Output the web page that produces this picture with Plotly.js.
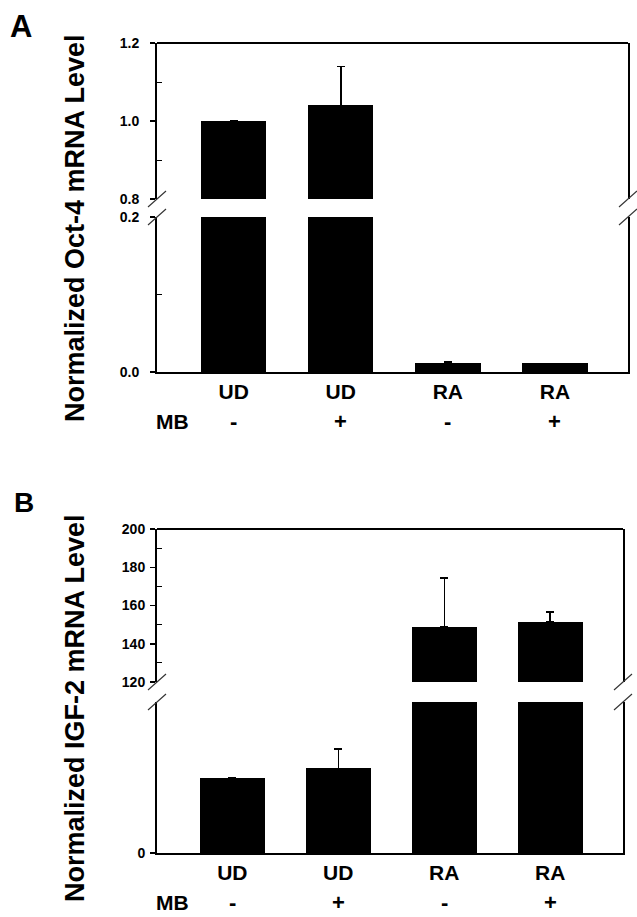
<!DOCTYPE html>
<html><head><meta charset="utf-8">
<script src="https://cdn.plot.ly/plotly-3.0.1.min.js"></script>
<style>html,body{margin:0;padding:0;background:#fff}#chart{width:637px;height:917px}</style>
</head><body><div id="chart"></div>
<script>
// ---- data ----
const categories = ["UD", "UD", "RA", "RA"];
const mbLabels = ["-", "+", "-", "+"];
const catPos = [0, 1, 2, 3];
const oct4Values = [1.0, 1.04, 0.011, 0.011];
const oct4Errors = [null, 0.10, 0.002, null];
const igf2Values = [1.0, 1.12, 149, 151.4];
const igf2Errors = [null, 0.26, 25.3, 5.3];
const oct4UpperTicks = [0.8, 1.0, 1.2];
const oct4UpperLabels = ["0.8", "1.0", "1.2"];
const oct4UpperMinor = [0.9, 1.1];
const oct4LowerTicks = [0.0, 0.2];
const oct4LowerLabels = ["0.0", "0.2"];
const oct4LowerMinor = [0.1];
const igf2UpperTicks = [120, 140, 160, 180, 200];
const igf2UpperLabels = ["120", "140", "160", "180", "200"];
const igf2UpperMinor = [130, 150, 170, 190];
const igf2LowerTicks = [0];
const igf2LowerLabels = ["0"];
const titleA = "Normalized Oct-4 mRNA Level";
const titleB = "Normalized IGF-2 mRNA Level";

// ---- helpers ----
const FONT = "Liberation Sans, Arial, sans-serif";
const W = 637, H = 917;
const px = v => v / W;
const py = v => 1 - v / H;
const zerosLike = a => a.map(v => (v === null ? null : 0));

function barTrace(y, err, xa, ya) {
  return {
    type: "bar", x: catPos, y: y, xaxis: xa, yaxis: ya, width: 0.61,
    marker: {color: "#000", line: {width: 0}},
    error_y: {type: "data", symmetric: false, array: err, arrayminus: zerosLike(err),
              color: "#000", thickness: 1.5, width: 4},
    hoverinfo: "none", showlegend: false
  };
}

function yAx(dom, rng, anchor, tv, tt, minor, standoff) {
  return {
    domain: dom, range: rng, anchor: anchor, showline: true, mirror: true,
    linewidth: 2, linecolor: "#000", ticks: "outside", ticklen: 5, tickwidth: 1.5,
    tickcolor: "#000", tickmode: "array", tickvals: tv, ticktext: tt,
    ticklabelstandoff: standoff,
    tickfont: {family: FONT, size: 14, color: "#000", weight: "bold"},
    minor: minor ? {tickmode: "array", tickvals: minor, ticks: "inside", ticklen: 5, tickwidth: 1, tickcolor: "#000", showgrid: false} : undefined,
    showgrid: false, zeroline: false, fixedrange: true
  };
}

function xAx(dom, rng, anchor) {
  return {
    domain: dom, range: rng, anchor: anchor, showline: true, linewidth: 2,
    linecolor: "#000", ticks: "", tickmode: "array", tickvals: catPos,
    ticktext: categories, ticklabelstandoff: 0,
    tickfont: {family: FONT, size: 21, color: "#000", weight: "bold"},
    showgrid: false, zeroline: false, fixedrange: true
  };
}

function slash(xr, yr, xa, ya) {
  return {type: "line", xref: xr, yref: yr, xsizemode: "pixel", ysizemode: "pixel",
          xanchor: xa, yanchor: ya, x0: -9, x1: 9, y0: -8, y1: 8,
          line: {width: 1.2, color: "#333"}};
}
function topLine(xr, yr) {
  return {type: "line", xref: xr, yref: yr, x0: 0, x1: 1, y0: 1, y1: 1,
          line: {width: 2, color: "#000"}};
}

const data = [
  barTrace(oct4Values, oct4Errors, "x", "y"),
  barTrace(oct4Values, oct4Errors, "x", "y2"),
  barTrace(igf2Values, igf2Errors, "x2", "y3"),
  barTrace(igf2Values, igf2Errors, "x2", "y4")
];

const bold = (size) => ({family: FONT, size: size, color: "#000", weight: "bold"});
function ann(text, xref, x, y, size, angle) {
  return {text: text, xref: xref, yref: "paper", x: x, y: y, xanchor: "center", yanchor: "middle",
          textangle: angle || 0, showarrow: false, font: bold(size)};
}
const annotations = [
  ann("A", "paper", px(21), py(27), 31),
  ann("B", "paper", px(24), py(502), 28),
  ann(titleA, "paper", px(75), py(228), 27, -90),
  ann(titleB, "paper", px(75), py(708), 27, -90),
  ann("MB", "paper", px(172), py(421), 21),
  ann("MB", "paper", px(172), py(902), 21)
];
mbLabels.forEach((t, i) => {
  annotations.push(ann(t, "x", catPos[i], py(421), 22));
  annotations.push(ann(t, "x2", catPos[i], py(902), 22));
});

const layout = {
  width: W, height: H, autosize: false,
  margin: {l: 0, r: 0, t: 0, b: 0, pad: 0},
  paper_bgcolor: "#fff", plot_bgcolor: "rgba(0,0,0,0)",
  bargap: 0, showlegend: false,
  xaxis: xAx([px(157), px(628)], [-0.716, 3.682], "y2"),
  yaxis: yAx([py(199), py(43)], [0.8, 1.2], "x", oct4UpperTicks, oct4UpperLabels, oct4UpperMinor, 8),
  yaxis2: yAx([py(372), py(217)], [0, 0.2], "x", oct4LowerTicks, oct4LowerLabels, oct4LowerMinor, 8),
  xaxis2: xAx([px(157), px(623)], [-0.711, 3.687], "y4"),
  yaxis3: yAx([py(682), py(529)], [120, 200], "x2", igf2UpperTicks, igf2UpperLabels, igf2UpperMinor, 2),
  yaxis4: yAx([py(853), py(702)], [0, 2], "x2", igf2LowerTicks, igf2LowerLabels, null, 2),
  shapes: [
    topLine("x domain", "y domain"),
    topLine("x2 domain", "y3 domain"),
    slash("x domain", "y domain", 0, 0), slash("x domain", "y domain", 1, 0),
    slash("x domain", "y2 domain", 0, 1), slash("x domain", "y2 domain", 1, 1),
    slash("x2 domain", "y3 domain", 0, 0), slash("x2 domain", "y3 domain", 1, 0),
    slash("x2 domain", "y4 domain", 0, 1), slash("x2 domain", "y4 domain", 1, 1)
  ],
  annotations: annotations
};

Plotly.newPlot("chart", data, layout, {staticPlot: true, displayModeBar: false});
</script>
</body></html>
